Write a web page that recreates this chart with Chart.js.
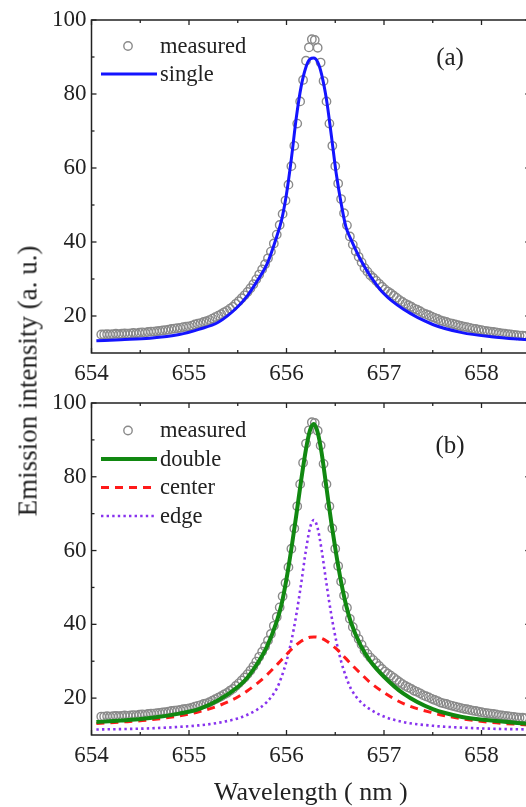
<!DOCTYPE html>
<html><head><meta charset="utf-8">
<script src="https://cdn.jsdelivr.net/npm/chart.js@4.4.1/dist/chart.umd.min.js"></script>
<style>
html,body{margin:0;padding:0;background:#fff;overflow:hidden;width:526px;height:807px;}
#wrap{position:relative;width:526px;height:807px;overflow:hidden;background:#fff;}
.pane{position:absolute;left:0;width:545px;}
#ytitle{position:absolute;left:28px;top:381px;transform:translate(-50%,-50%) rotate(-90deg);font:27px 'Liberation Serif';white-space:nowrap;color:#222;}
</style></head><body>
<div id="wrap">
<div class="pane" style="top:0;height:400px"><canvas id="ca" width="545" height="400"></canvas></div>
<div class="pane" style="top:383px;height:424px"><canvas id="cb" width="545" height="424"></canvas></div>
<div id="ytitle">Emission intensity (a. u.)</div>
</div>
<script>
// ---- data ----
const xTicks = [654, 655, 656, 657, 658];
const xMinorTicks = [654.5, 655.5, 656.5, 657.5];
const yTicks = [20, 40, 60, 80, 100];
const yMinorTicks = [30, 50, 70, 90];

const measuredX = [654.10,654.13,654.16,654.19,654.22,654.25,654.28,654.31,654.34,654.37,654.40,654.43,654.46,654.49,654.52,654.55,654.58,654.61,654.64,654.67,654.70,654.73,654.76,654.79,654.82,654.85,654.88,654.91,654.94,654.97,655.00,655.03,655.06,655.09,655.12,655.15,655.18,655.21,655.24,655.27,655.30,655.33,655.36,655.39,655.42,655.45,655.48,655.51,655.54,655.57,655.60,655.63,655.66,655.69,655.72,655.75,655.78,655.81,655.84,655.87,655.90,655.93,655.96,655.99,656.02,656.05,656.08,656.11,656.14,656.17,656.20,656.23,656.26,656.29,656.32,656.35,656.38,656.41,656.44,656.47,656.50,656.53,656.56,656.59,656.62,656.65,656.68,656.71,656.74,656.77,656.80,656.83,656.86,656.89,656.92,656.95,656.98,657.01,657.04,657.07,657.10,657.13,657.16,657.19,657.22,657.25,657.28,657.31,657.34,657.37,657.40,657.43,657.46,657.49,657.52,657.55,657.58,657.61,657.64,657.67,657.70,657.73,657.76,657.79,657.82,657.85,657.88,657.91,657.94,657.97,658.00,658.03,658.06,658.09,658.12,658.15,658.18,658.21,658.24,658.27,658.30,658.33,658.36,658.39,658.42,658.45];
const measuredY = [
15.0,15.0,15.1,15.0,15.1,15.2,15.1,15.2,15.3,15.2,
15.3,15.4,15.3,15.5,15.6,15.5,15.7,15.8,15.8,15.9,
16.0,16.1,16.2,16.3,16.5,16.6,16.7,16.8,17.0,17.1,
17.2,17.4,17.7,17.9,18.1,18.4,18.6,18.9,19.3,19.7,
20.1,20.5,21.0,21.4,22.0,22.5,23.3,24.0,24.8,25.6,
26.5,27.5,28.6,29.9,31.2,32.6,34.0,35.6,37.4,39.6,
42.0,44.6,47.6,51.2,55.5,60.5,66.0,72.0,78.0,83.8,
89.0,92.6,94.8,94.6,92.5,88.5,83.5,78.0,72.0,66.0,
60.5,55.8,51.6,47.8,44.5,41.5,39.3,37.5,36.0,34.5,
33.0,32.0,31.0,30.3,29.5,28.7,27.9,27.2,26.6,26.1,
25.5,24.9,24.3,23.8,23.3,22.9,22.5,22.0,21.7,21.3,
20.8,20.5,20.2,19.8,19.5,19.2,18.8,18.6,18.4,18.1,
17.9,17.7,17.5,17.3,17.1,17.0,16.8,16.6,16.5,16.3,
16.2,16.0,15.9,15.8,15.7,15.6,15.4,15.3,15.2,15.1,
15.0,14.9,14.8,14.7,14.7,14.6];

const fitX = [654.05,654.3,654.6,654.9,655.1,655.3,655.5,655.6,655.7,655.8,655.9,655.95,656.0,656.05,656.1,656.15,656.2,656.24,656.28,656.32,656.36,656.41,656.46,656.51,656.56,656.61,656.66,656.76,656.86,657.0,657.2,657.5,657.8,658.1,658.5];
const singleY = [13.3,13.6,14.0,15.0,16.4,18.3,22.5,25.5,29.5,34.0,41.5,46.0,53.0,62.5,73.5,82.0,87.3,89.4,89.7,88.6,85.3,78.5,68.8,58.5,50.5,44.0,40.8,35.2,30.8,26.0,21.8,17.7,15.5,14.4,13.5];
const doubleY = [13.5,13.9,14.6,15.8,17.0,19.4,23.0,25.6,29.3,34.0,40.8,45.5,52.3,60.5,69.5,79.0,87.5,92.5,94.3,92.0,86.5,77.0,67.5,59.0,51.5,45.3,40.6,34.3,30.0,25.8,21.2,17.0,14.9,13.9,13.0];
const centerY = [13.1,13.5,14.1,15.2,16.3,17.9,20.3,22.0,24.0,26.3,29.0,30.4,31.8,33.2,34.4,35.4,36.1,36.5,36.6,36.5,36.2,35.5,34.5,33.4,32.1,30.7,29.3,26.7,24.2,21.5,18.5,16.0,14.4,13.4,12.7];
const edgeY = [11.5,11.6,11.8,12.2,12.6,13.3,14.5,15.5,16.9,19.0,22.6,25.8,30.0,35.5,42.5,51.0,60.2,66.0,68.3,66.0,60.2,51.0,42.5,35.5,30.0,25.8,22.6,19.0,16.9,15.0,13.5,12.5,12.0,11.7,11.5];

// ---- helpers ----
const FONT = "'Liberation Serif', 'Times New Roman', serif";
const pts = (xs, ys) => xs.map((x, i) => ({x, y: ys[i]}));

function measuredSet() {
  return {label: 'measured', data: pts(measuredX, measuredY), showLine: false,
    pointRadius: 4.2, pointBorderColor: '#8a8a8a', pointBackgroundColor: 'rgba(0,0,0,0)',
    pointBorderWidth: 1.4, order: 10};
}
function lineSet(label, ys, color, width, dash, order) {
  return {label, data: pts(fitX, ys), showLine: true, pointRadius: 0,
    borderColor: color, borderWidth: width, borderDash: dash, cubicInterpolationMode: 'monotone',
    order};
}

const framePlugin = {
  id: 'frame',
  afterDraw(chart) {
    const {ctx, chartArea: a, scales: {x, y}} = chart;
    ctx.save();
    ctx.strokeStyle = '#222'; ctx.lineWidth = 1.5;
    ctx.strokeRect(a.left, a.top, a.right - a.left, a.bottom - a.top);
    ctx.lineWidth = 1.3;
    const seg = (x1, y1, x2, y2) => { ctx.beginPath(); ctx.moveTo(x1, y1); ctx.lineTo(x2, y2); ctx.stroke(); };
    xTicks.forEach(v => { const p = x.getPixelForValue(v); seg(p, a.bottom, p, a.bottom - 5); seg(p, a.top, p, a.top + 5); });
    xMinorTicks.forEach(v => { const p = x.getPixelForValue(v); seg(p, a.bottom, p, a.bottom - 3); seg(p, a.top, p, a.top + 3); });
    yTicks.forEach(v => { const p = y.getPixelForValue(v); seg(a.left, p, a.left + 5, p); seg(a.right, p, a.right - 5, p); });
    yMinorTicks.forEach(v => { const p = y.getPixelForValue(v); seg(a.left, p, a.left + 3, p); seg(a.right, p, a.right - 3, p); });
    ctx.restore();
  }
};

const legendPlugin = {
  id: 'panelLegend',
  afterDraw(chart, args, opts) {
    const {ctx, chartArea: a} = chart;
    ctx.save();
    ctx.font = '22.5px ' + FONT;
    ctx.textBaseline = 'middle';
    ctx.fillStyle = '#222';
    chart.data.datasets.forEach((ds, i) => {
      const yy = a.top + opts.firstRow + i * opts.rowGap;
      if (!ds.showLine) {
        ctx.beginPath(); ctx.strokeStyle = ds.pointBorderColor; ctx.lineWidth = ds.pointBorderWidth;
        ctx.arc(128, yy, ds.pointRadius, 0, Math.PI * 2); ctx.stroke();
      } else {
        ctx.beginPath(); ctx.strokeStyle = ds.borderColor; ctx.lineWidth = ds.borderWidth;
        ctx.setLineDash(ds.borderDash || []);
        ctx.moveTo(101, yy); ctx.lineTo(157, yy); ctx.stroke(); ctx.setLineDash([]);
      }
      ctx.fillText(ds.label, 160, yy + 1);
    });
    ctx.font = '25px ' + FONT; ctx.textAlign = 'center';
    ctx.fillText(opts.tag, opts.tagX, a.top + opts.tagY);
    ctx.restore();
  }
};

function makeOptions(xAxisHeight, withTitle, legendOpts) {
  return {
    responsive: false, animation: false, events: [],
    layout: {padding: {top: 20, right: 14.75, left: 0, bottom: 0}},
    plugins: {legend: {display: false}, tooltip: {enabled: false}, panelLegend: legendOpts},
    scales: {
      x: {type: 'linear', min: 654, max: 658.5,
        afterBuildTicks: s => { s.ticks = xTicks.map(v => ({value: v})); },
        afterFit: s => { s.height = xAxisHeight; },
        grid: {display: false, drawTicks: false}, border: {display: false},
        ticks: {font: {family: FONT, size: 23}, color: '#222', padding: 7, maxRotation: 0, autoSkip: false},
        title: {display: withTitle, text: 'Wavelength ( nm )', font: {family: FONT, size: 26, lineHeight: 1}, color: '#222', padding: {top: 0, bottom: 1}}
      },
      y: {type: 'linear', min: 10, max: 100,
        afterBuildTicks: s => { s.ticks = yTicks.map(v => ({value: v})); },
        afterFit: s => { s.width = 91.5; },
        grid: {display: false, drawTicks: false}, border: {display: false},
        ticks: {font: {family: FONT, size: 23}, color: '#222', padding: 5}
      }
    }
  };
}

Chart.register(framePlugin, legendPlugin);

new Chart(document.getElementById('ca'), {
  type: 'scatter',
  data: {datasets: [measuredSet(), lineSet('single', singleY, '#1414ff', 3, [], 1)]},
  options: makeOptions(47, false, {firstRow: 26, rowGap: 28, tag: '(a)', tagX: 450, tagY: 38})
});

new Chart(document.getElementById('cb'), {
  type: 'scatter',
  data: {datasets: [
    measuredSet(),
    lineSet('double', doubleY, '#118811', 4, [], 1),
    lineSet('center', centerY, '#ff1a1a', 3, [8, 6], 2),
    lineSet('edge', edgeY, '#8833ee', 2.6, [2.4, 3.2], 3)
  ]},
  options: makeOptions(72, true, {firstRow: 27.5, rowGap: 28.5, tag: '(b)', tagX: 450, tagY: 43})
});
</script>
</body></html>
